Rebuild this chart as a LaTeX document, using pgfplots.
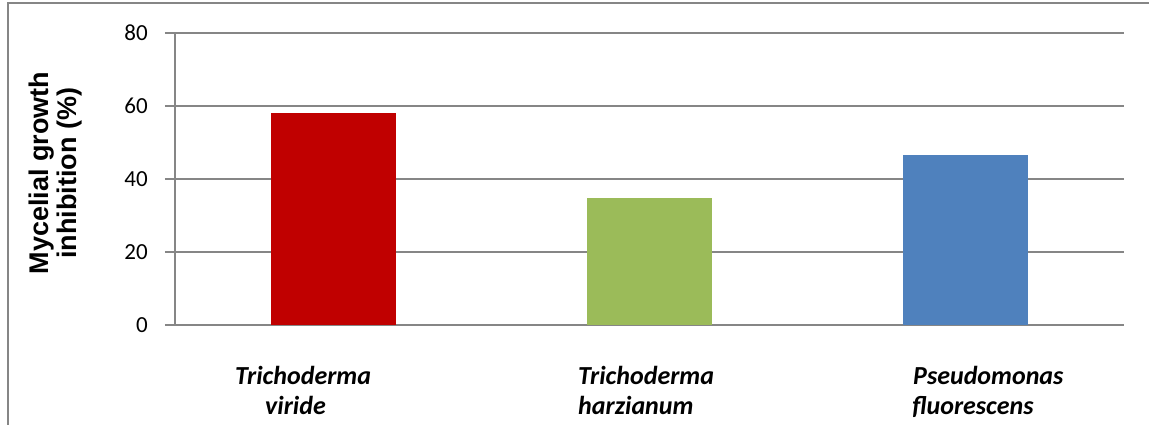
\documentclass[border=0pt]{standalone}
\usepackage{pgfplots}
\pgfplotsset{compat=1.18}
\usepackage{fontspec}
\setmainfont{Carlito}
\newfontfamily\arialfont{Liberation Sans}
\definecolor{gridgray}{HTML}{868686}
\definecolor{barred}{HTML}{C00000}
\definecolor{bargreen}{HTML}{9BBB59}
\definecolor{barblue}{HTML}{4F81BD}
\begin{document}
\begin{tikzpicture}[x=1pt,y=1pt]
\useasboundingbox (0,0) rectangle (1149,425);
\begin{scope}
\clip (0,0) rectangle (1149,425);
\draw[gridgray, line width=2pt] (7.5,-30) rectangle (1180,421.5);
\end{scope}
\begin{axis}[
  at={(175pt,100pt)}, anchor=south west,
  scale only axis, width=949pt, height=292pt,
  xmin=-0.5, xmax=2.5, ymin=0, ymax=80,
  ytick={0,20,40,60,80},
  xtick=\empty,
  axis x line*=bottom, axis y line*=left,
  axis line style={gridgray, line width=1.3pt, -},
  ymajorgrids, grid style={gridgray, line width=1.3pt},
  major tick length=10pt, tick align=outside,
  y tick style={gridgray, line width=1.3pt},
  yticklabel style={font=\fontsize{23}{26}\selectfont, anchor=east, inner sep=0pt, xshift=-17pt},
  /pgf/number format/assume math mode=true,
  ylabel={Mycelial growth\\inhibition (\%)},
  ylabel style={font=\arialfont\bfseries\fontsize{27}{28}\selectfont, align=center, rotate=0, anchor=center, at={(axis description cs:-0.1254,0.52)}},
  clip=false,
  ybar, bar width=125pt, bar shift=0pt,
]
\addplot[fill=barred, draw=none] coordinates {(0,58.1)};
\addplot[fill=bargreen, draw=none] coordinates {(1,34.9)};
\addplot[fill=barblue, draw=none] coordinates {(2,46.6)};
\begin{scope}[every node/.style={font=\bfseries\itshape\fontsize{26}{30}\selectfont, inner sep=0pt, anchor=base west}]
\node at (axis cs:-0.3103,-16.41) {Trichoderma};
\node at (axis cs:-0.2155,-24.6) {viride};
\node at (axis cs:0.774,-16.41) {Trichoderma};
\node at (axis cs:0.774,-24.6) {harzianum};
\node at (axis cs:1.833,-16.41) {Pseudomonas};
\node at (axis cs:1.830,-24.6) {fluorescens};
\end{scope}
\end{axis}
\end{tikzpicture}
\end{document}
